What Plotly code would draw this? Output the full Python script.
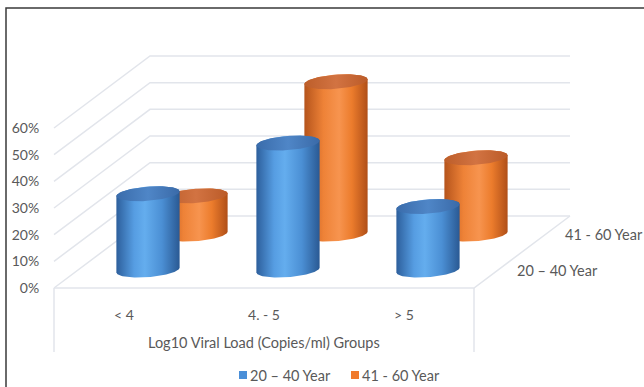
import numpy as np
import plotly.graph_objects as go

# ---- data -------------------------------------------------------------
categories = ["< 4", "4. - 5", "> 5"]
series_names = ["20 – 40 Year", "41 - 60 Year"]
age_20_40 = [28.6, 47.6, 23.8]
age_41_60 = [14.3, 57.1, 28.6]
pct_ticks = [0, 10, 20, 30, 40, 50, 60]
x_title = "Log10 Viral Load (Copies/ml) Groups"

# ---- geometry of the oblique 3-D frame (axis units) ----------------------
W, H = 644, 387
PX_PER_CAT = 140.0          # pixels per category on the x axis
PX_PER_PCT = 8.0 / 3.0      # pixels per percent on the y axis
ORIGIN_PX = (54, 288)       # front-left floor corner in pixels
DEPTH_X = 96 / PX_PER_CAT   # depth vector, x part (categories)
DEPTH_Y = 72 / PX_PER_PCT   # depth vector, y part (percent)
RADIUS = 30 / PX_PER_CAT    # cylinder radius along x
ELL_B = 7.5 / PX_PER_PCT    # half height of a cylinder cap
ELL_A = ELL_B * DEPTH_X / DEPTH_Y  # shear of the cap along the depth axis

x_range = [-ORIGIN_PX[0] / PX_PER_CAT, (W - ORIGIN_PX[0]) / PX_PER_CAT]
y_range = [(ORIGIN_PX[1] - H) / PX_PER_PCT, ORIGIN_PX[1] / PX_PER_PCT]

GRID = "#e2e5eb"
TEXT = "#595959"
FONT = "Lato"
FS = 14.5

styles = [
    dict(body=[[0, "#2d5f9c"], [0.28, "#569de2"], [0.45, "#64adee"],
               [0.72, "#4b8fd4"], [1, "#2a5993"]],
         top=[[0, "#3a6cab"], [0.5, "#4f86c7"], [1, "#3a6aa8"]],
         swatch="#4a8fd8"),
    dict(body=[[0, "#b5541c"], [0.3, "#ee8237"], [0.55, "#f7944f"],
               [0.75, "#ec7c2c"], [1, "#b04f18"]],
         top=[[0, "#bd5e2a"], [0.5, "#d27342"], [1, "#bb5b28"]],
         swatch="#f07a2c"),
]


def depth_point(x, v, frac):
    """Project a point on the front plane back by `frac` of the depth."""
    return x + DEPTH_X * frac, v + DEPTH_Y * frac


def cap(cx, cy, t):
    return (cx + RADIUS * np.cos(t) + ELL_A * np.sin(t),
            cy + ELL_B * np.sin(t))


fig = go.Figure()

# ---- frame: left wall, back wall, floor ----------------------------------
line_x, line_y = [], []
for v in pct_ticks:
    bx, by = depth_point(0, v, 1)
    line_x += [0, bx, bx + 3, None]
    line_y += [v, by, by, None]
fx, fy = depth_point(3, 0, 1)
line_x += [0, 3, fx, None, 0, 0, None, 3, 3, None]
line_y += [0, 0, fy, None, 0, -24, None, 0, -24, None]
fig.add_trace(go.Scatter(x=line_x, y=line_y, mode="lines",
                         line=dict(color=GRID, width=1.5),
                         hoverinfo="skip", showlegend=False))

# ---- cylinders, back row first ------------------------------------------
values = [age_20_40, age_41_60]
theta = np.arctan2(ELL_A, RADIUS)
for s in (1, 0):
    frac = (s + 0.5) / 2
    for i, val in enumerate(values[s]):
        cx, base = depth_point(i + 0.5, 0, frac)
        top = base + val
        t_front = np.linspace(theta, theta - np.pi, 60)
        t_back = np.linspace(theta + np.pi, theta, 60)
        bx, by = cap(cx, base, t_front)
        tx, ty = cap(cx, top, t_back)
        fig.add_trace(go.Scatter(
            x=np.r_[bx, tx], y=np.r_[by, ty], mode="lines", fill="toself",
            line=dict(width=0), fillgradient=dict(type="horizontal",
                                                  colorscale=styles[s]["body"]),
            name=series_names[s], hoverinfo="skip", showlegend=False))
        t_all = np.linspace(0, 2 * np.pi, 90)
        ex, ey = cap(cx, top, t_all)
        fig.add_trace(go.Scatter(
            x=ex, y=ey, mode="lines", fill="toself", line=dict(width=0),
            fillgradient=dict(type="horizontal", colorscale=styles[s]["top"]),
            hoverinfo="skip", showlegend=False))

# ---- labels --------------------------------------------------------------
annotations = []
for s, name in enumerate(series_names):
    lx, ly = depth_point(3, 0, (s + 0.5) / 2)
    annotations.append(dict(x=lx, y=ly, text=name, showarrow=False,
                            xanchor="left", yanchor="middle", xshift=17,
                            font=dict(family=FONT, size=FS, color=TEXT)))
annotations.append(dict(x=1.5, y=-20.6, text=x_title, showarrow=False,
                        xanchor="center", yanchor="middle",
                        font=dict(family=FONT, size=FS, color=TEXT)))

# legend row
legend_left = [239, 351]
shapes = []
for s, name in enumerate(series_names):
    x0 = legend_left[s]
    shapes.append(dict(type="rect", xref="paper", yref="paper",
                       x0=x0 / W, x1=(x0 + 8) / W,
                       y0=(H - 379) / H, y1=(H - 371) / H,
                       fillcolor=styles[s]["swatch"], line=dict(width=0)))
    annotations.append(dict(xref="paper", yref="paper", x=(x0 + 9) / W,
                            y=(H - 375) / H, text=name, showarrow=False,
                            xanchor="left", yanchor="middle",
                            font=dict(family=FONT, size=FS, color=TEXT)))

# outer frame
shapes.append(dict(type="rect", xref="paper", yref="paper",
                   x0=6 / W, x1=1.2, y0=-0.2, y1=(H - 8) / H,
                   line=dict(color="#3a3a3a", width=1.5)))

fig.update_layout(
    width=W, height=H, margin=dict(l=0, r=0, t=0, b=0),
    paper_bgcolor="white", plot_bgcolor="white",
    showlegend=False, annotations=annotations, shapes=shapes,
    xaxis=dict(range=x_range, showgrid=False, zeroline=False,
               showline=False, tickmode="array",
               tickvals=[i + 0.5 for i in range(len(categories))],
               ticktext=categories, ticks="outside", ticklen=14,
               tickcolor="rgba(0,0,0,0)", anchor="free",
               position=(H - ORIGIN_PX[1]) / H,
               tickfont=dict(family=FONT, size=14, color=TEXT)),
    yaxis=dict(range=y_range, showgrid=False, zeroline=False,
               showline=False, tickmode="array", tickvals=pct_ticks,
               ticktext=[f"{v}%" for v in pct_ticks], ticks="outside",
               ticklen=12, tickcolor="rgba(0,0,0,0)", anchor="free",
               position=ORIGIN_PX[0] / W,
               tickfont=dict(family=FONT, size=14, color=TEXT)),
)

fig.write_html("out.html")
